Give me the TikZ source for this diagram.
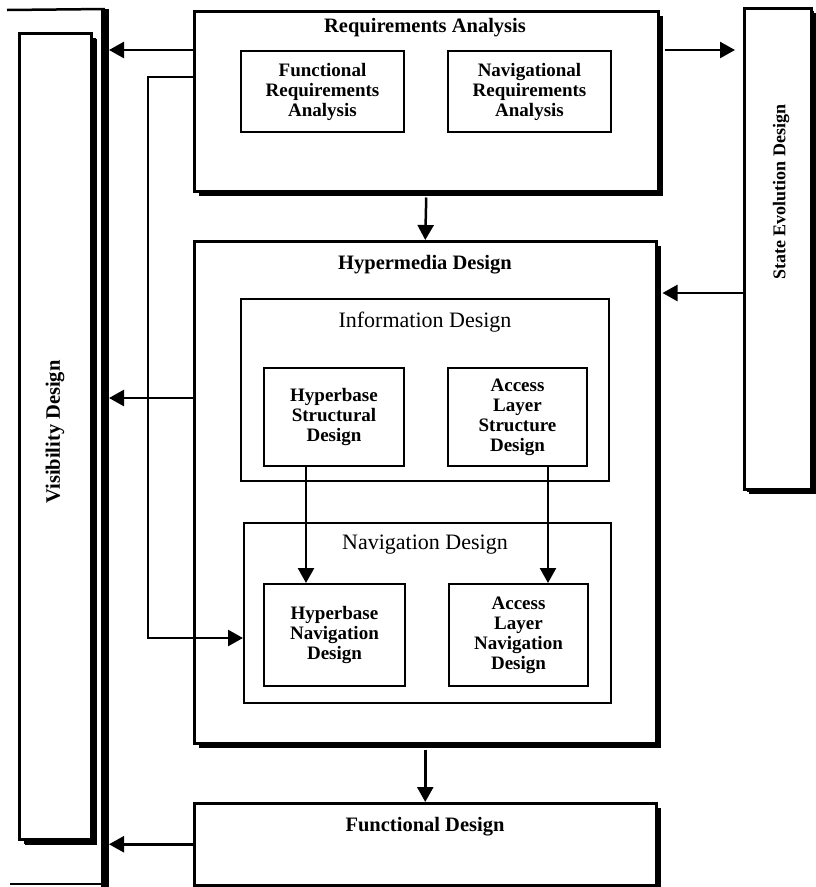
\documentclass[tikz,border=0pt]{standalone}
\usepackage{fontspec}
\setmainfont{Liberation Serif}
\usetikzlibrary{arrows.meta,shadows}

\begin{document}
\begin{tikzpicture}[x=1pt,y=-1pt,
    box/.style={draw, line width=2pt, anchor=north west, align=center, inner sep=0pt, font=\fontsize{19}{20}\selectfont\bfseries},
    bigbox/.style={box, line width=2.5pt, fill=white, drop shadow={shadow xshift=5pt, shadow yshift=-5pt, fill=black, opacity=1}},
    title/.style={font=\fontsize{20.5}{22}\selectfont\bfseries},
    plain/.style={font=\fontsize{22}{24}\selectfont},
    arr/.style={line width=2.5pt, -{Triangle[length=15pt,width=16pt]}}]
    \useasboundingbox (0,0) rectangle (815,887);
    \draw[line width=8pt] (105,9) coordinate (busTop) -- (105,887) coordinate (busBot);
    \draw[line width=2.5pt] (7,10) -- (busTop);
    \draw[line width=2.5pt] (10,884) -- (105,884);
    \coordinate (bus) at (109,0);
    \node[bigbox, minimum width=72, minimum height=806, drop shadow={shadow xshift=6pt, shadow yshift=-6pt, fill=black, opacity=1}] (vis) at (18,32) {};
    \node[title, rotate=90] (visT) at (55,432) {Visibility Design};
    \node[bigbox, minimum width=67, minimum height=481, drop shadow={shadow xshift=3pt, shadow yshift=-3pt, fill=black, opacity=1}] (sed) at (743,7) {};
    \node[title, rotate=90, font=\fontsize{18}{20}\selectfont\bfseries] (sedT) at (781,192) {State Evolution Design};
    \node[bigbox, minimum width=464, minimum height=180] (req) at (193,10) {};
    \node[title] (reqT) at (425,28) {Requirements Analysis};
    \node[box, minimum width=163, minimum height=81] (fra) at (240,50) {Functional\\Requirements\\Analysis};
    \node[box, minimum width=163, minimum height=81] (nra) at (447,50) {Navigational\\Requirements\\Analysis};
    \node[bigbox, minimum width=462, minimum height=502] (hyp) at (193,240) {};
    \node[title] (hypT) at (425,265) {Hypermedia Design};
    \node[box, minimum width=368, minimum height=182] (info) at (240,298) {};
    \node[plain] (infoT) at (425,322) {Information Design};
    \node[box, minimum width=140, minimum height=98] (hsd) at (263,367) {Hyperbase\\Structural\\Design};
    \node[box, minimum width=139, minimum height=98] (alsd) at (447,367) {Access\\Layer\\Structure\\Design};
    \node[box, minimum width=367, minimum height=180] (nav) at (243,522) {};
    \node[plain] (navT) at (425,545) {Navigation Design};
    \node[box, minimum width=141, minimum height=102] (hnd) at (263,583) {Hyperbase\\Navigation\\Design};
    \node[box, minimum width=139, minimum height=102] (alnd) at (448,583) {Access\\Layer\\Navigation\\Design};
    \node[bigbox, minimum width=462, minimum height=82] (func) at (193,802) {};
    \node[title] (funcT) at (425,827) {Functional Design};
    \draw[arr] ([yshift=-40pt]req.north west) coordinate (a1) -- (bus |- a1);
    \draw[arr, shorten >=8pt] ([xshift=5pt, yshift=-40pt]req.north east) coordinate (a2) -- (sed.west |- a2);
    \draw[arr] ([yshift=-67pt]req.north west) -- ++(-45,0) |- ([yshift=-25pt]nav.west);
    \draw[arr] ([yshift=-5pt]req.south) -- (hyp.north);
    \draw[arr] (sed.west |- 0,293) coordinate (a3) -- ([xshift=5pt]hyp.east |- a3);
    \draw[arr] (hyp.west |- 0,398) coordinate (a4) -- (bus |- a4);
    \draw[arr] (hsd.south -| 306,0) -- (hnd.north -| 306,0);
    \draw[arr] (alsd.south -| 548,0) -- (alnd.north -| 548,0);
    \draw[arr] ([yshift=-5pt]hyp.south) -- (func.north);
    \draw[arr] (func.west) -- (bus |- func.west);
\end{tikzpicture}
\end{document}
